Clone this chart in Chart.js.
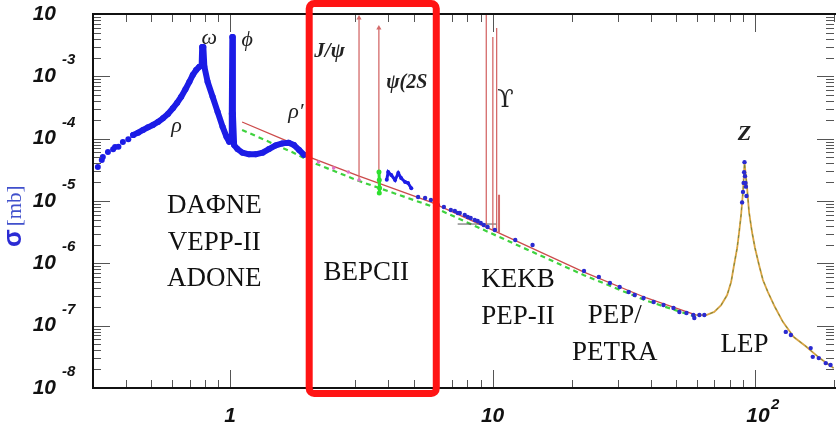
<!DOCTYPE html>
<html>
<head>
<meta charset="utf-8">
<script src="https://cdn.jsdelivr.net/npm/chart.js@4/dist/chart.umd.min.js"></script>
<style>
  html, body { margin: 0; padding: 0; background: #fff; }
  canvas { display: block; }
</style>
</head>
<body>
<canvas id="sigmaChart" width="838" height="429"></canvas>
<script>
// e+e- -> hadrons, E in GeV, sigma in mb
const sparseE = [0.313, 0.324, 0.327, 0.342, 0.358, 0.364, 0.375, 0.390, 0.409, 0.427];
const sparseSigma = [3.51e-5, 4.55e-5, 5.08e-5, 6.11e-5, 6.76e-5, 7.35e-5, 7.43e-5, 8.83e-5, 9.77e-5, 1.15e-4];

const bandE = [0.427, 0.446, 0.4655, 0.486, 0.5077, 0.5305, 0.5542, 0.5789, 0.6045, 0.6282, 0.6506, 0.6752,
  0.6993, 0.7199, 0.7414, 0.7631, 0.7785, 0.782, 0.790, 0.797, 0.820, 0.857, 0.895, 0.935, 0.968, 0.991,
  1.008, 1.014, 1.019, 1.024, 1.035, 1.066, 1.113, 1.18, 1.25, 1.33, 1.405, 1.49, 1.58, 1.67, 1.75, 1.83, 1.91];
const bandSigma = [1.15e-4, 1.25e-4, 1.38e-4, 1.52e-4, 1.66e-4, 1.85e-4, 2.12e-4, 2.49e-4, 3.07e-4, 3.78e-4,
  4.71e-4, 6.19e-4, 8.20e-4, 1.05e-3, 1.26e-3, 1.43e-3, 1.52e-3, 2.95e-3, 2.95e-3, 1.43e-3, 8.2e-4, 4.71e-4,
  2.71e-4, 1.56e-4, 1.07e-4, 8.9e-5, 1.0e-4, 2.5e-4, 4.27e-3, 2.5e-4, 7.9e-5, 6.8e-5, 5.96e-5, 5.6e-5,
  5.6e-5, 5.96e-5, 6.8e-5, 7.8e-5, 8.4e-5, 8.6e-5, 7.9e-5, 6.6e-5, 5.5e-5];

// continuum theory (red) and second prediction (green dashed)
const contE = [1.11, 1.72, 2.04, 3.10, 5.82, 10.4, 22.3, 38.6, 59.8];
const contSigma = [1.85e-4, 8.5e-5, 4.9e-5, 2.51e-5, 9.6e-6, 3.16e-6, 7.24e-7, 2.78e-7, 1.48e-7];
const greenE = [1.11, 1.72, 2.04, 3.10, 5.82, 10.4, 22.3, 38.6, 59.8];
const greenSigma = [1.38e-4, 6.11e-5, 4.23e-5, 2.09e-5, 8.3e-6, 2.75e-6, 6.46e-7, 2.51e-7, 1.38e-7];

// Z line shape
const zE = [59.8, 65.2, 69.9, 74.3, 78.3, 81.1, 83.2, 85.5, 87.0, 88.5, 90.1, 91.2, 93.3, 94.9, 97.4, 100,
  103.6, 107.2, 112.0, 119.1, 127.7, 140.5, 156.1, 176.3, 199.2];
const zSigma = [1.48e-7, 1.48e-7, 1.66e-7, 2.14e-7, 3.10e-7, 5.01e-7, 9.4e-7, 1.76e-6, 3.18e-6, 5.96e-6,
  1.50e-5, 4.06e-5, 1.61e-5, 6.65e-6, 3.18e-6, 1.76e-6, 9.4e-7, 5.40e-7, 3.46e-7, 1.99e-7, 1.15e-7,
  6.58e-8, 4.68e-8, 3.02e-8, 2.09e-8];

// narrow resonances: energy, base, top
const spikeE = [3.097, 3.686, 9.46, 10.02, 10.36, 10.58];
const spikeBase = [2.17e-5, 1.5e-5, 3.7e-6, 3.4e-6, 3.2e-6, 3.1e-6];
const spikeTop = [8.6e-3, 5.96e-3, 1.0e-2, 4.27e-3, 5.96e-3, 1.26e-5];
const spikeArrow = [true, true, false, false, false, false];

// charm threshold wiggle
const bumpE = [3.95, 4.0, 4.11, 4.25, 4.37, 4.48, 4.64, 4.76, 4.9];
const bumpSigma = [2.2e-5, 2.92e-5, 2.61e-5, 2.17e-5, 2.81e-5, 2.34e-5, 2.02e-5, 1.95e-5, 1.6e-5];

// measured points above 5 GeV
const dataE = [5.20, 5.53, 5.82, 6.19, 6.52, 6.93, 7.18, 7.37, 7.5, 7.83, 8.04, 8.25, 8.55, 8.77, 9.01, 9.25,
  9.57, 10.2, 12.2, 14.2, 22.3, 25.4, 28.0, 30.5, 33.0, 34.8, 37.6, 41.1, 44.8, 48.9, 51.5, 54.8, 58.2, 58.7,
  61.4, 64.1, 89.3, 90.0, 90.5, 90.9, 91.2, 91.6, 92.0, 92.3, 92.8, 131, 137, 163, 166, 175, 186, 194];
const dataSigma = [1.16e-5, 1.12e-5, 1.04e-5, 8.63e-6, 8.0e-6, 7.16e-6, 6.9e-6, 6.41e-6, 6.41e-6, 5.96e-6,
  5.53e-6, 5.33e-6, 4.95e-6, 4.78e-6, 4.43e-6, 4.12e-6, 3.83e-6, 3.43e-6, 2.37e-6, 1.97e-6, 7.53e-7, 6.03e-7,
  4.83e-7, 4.17e-7, 3.47e-7, 3.10e-7, 2.78e-7, 2.40e-7, 2.14e-7, 1.92e-7, 1.66e-7, 1.60e-7, 1.48e-7, 1.33e-7,
  1.48e-7, 1.48e-7, 9.5e-6, 1.4e-5, 1.95e-5, 2.9e-5, 4.2e-5, 2.5e-5, 1.95e-5, 1.7e-5, 1.2e-5, 7.94e-8,
  7.08e-8, 4.37e-8, 3.16e-8, 3.02e-8, 2.51e-8, 2.34e-8];
const pinkE = [2.17, 2.48, 2.82, 3.10];
const pinkSigma = [4.23e-5, 3.39e-5, 2.92e-5, 2.17e-5];
const psiGreenE = [3.69, 3.70, 3.71, 3.70];
const psiGreenSigma = [2.92e-5, 2.17e-5, 1.62e-5, 1.35e-5];

// short marker line near the Upsilon region
const markE = [7.36, 10.4];
const markSigma = [4.27e-6, 4.27e-6];

const xMajor = [1, 10, 100];
const yExponents = [-2, -3, -4, -5, -6, -7, -8];

const regionLabels = [
  { lines: ['DAΦNE', 'VEPP-II', 'ADONE'], x: 0.87, y: 6.4e-6 },
  { lines: ['BEPCII'], x: 3.30, y: 5.4e-7 },
  { lines: ['KEKB', 'PEP-II'], x: 12.5, y: 4.17e-7 },
  { lines: ['PEP/', 'PETRA'], x: 29.2, y: 1.1e-7 },
  { lines: ['LEP'], x: 91.2, y: 3.78e-8 }
];
const peakLabels = [
  { text: 'ω', x: 0.833, y: 4.12e-3, font: 'italic 22px "Liberation Serif"', align: 'center' },
  { text: 'ϕ', x: 1.16, y: 3.83e-3, font: 'italic 22px "Liberation Serif"', align: 'center' },
  { text: 'ρ', x: 0.624, y: 1.6e-4, font: 'italic 22px "Liberation Serif"', align: 'center' },
  { text: 'ρ′', x: 1.78, y: 2.68e-4, font: 'italic 22px "Liberation Serif"', align: 'center' },
  { text: 'J/ψ', x: 2.39, y: 2.45e-3, font: 'bold italic 21px "Liberation Serif"', align: 'center' },
  { text: 'ψ(2S', x: 3.93, y: 7.8e-4, font: 'bold italic 20px "Liberation Serif"', align: 'left' },
  { text: 'ϒ', x: 11.2, y: 4.0e-4, font: '24px "DejaVu Serif"', align: 'center' },
  { text: 'Z', x: 91.2, y: 1.19e-4, font: 'bold italic 22px "Liberation Serif"', align: 'center' }
];
const boxE = [2.0, 6.1];

const pts = (xs, ys) => xs.map((x, i) => ({ x: x, y: ys[i] }));

const datasets = [
  { data: pts(greenE, greenSigma), showLine: true, borderColor: '#3ed23e', borderWidth: 2.2,
    borderDash: [5, 4], pointRadius: 0, order: 9 },
  { data: pts(contE, contSigma), showLine: true, borderColor: '#cc4b4b', borderWidth: 1.3,
    pointRadius: 0, order: 8 },
  { data: pts(zE, zSigma), showLine: true, borderColor: '#d9a443', borderWidth: 1.8,
    pointRadius: 0, order: 7 },
  { data: pts(zE, zSigma), showLine: true, borderColor: '#5f7f3a', borderWidth: 0.8,
    borderDash: [3, 4], pointRadius: 0, order: 6 },
  { data: pts(markE, markSigma), showLine: true, borderColor: '#555', borderWidth: 1,
    pointRadius: 0, order: 6 }
];
spikeE.forEach((e, i) => {
  datasets.push({
    data: [{ x: e, y: spikeBase[i] }, { x: e, y: spikeTop[i] }],
    showLine: true, borderColor: '#d46a6a', borderWidth: i === 5 ? 2 : 1.3,
    pointStyle: 'triangle', pointRadius: spikeArrow[i] ? [0, 3] : 0,
    backgroundColor: '#d46a6a', pointBorderWidth: 0, order: 5
  });
});
datasets.push(
  { data: pts(pinkE, pinkSigma), pointRadius: 1.8, backgroundColor: '#e070c8', pointBorderWidth: 0, order: 4 },
  { data: pts(psiGreenE, psiGreenSigma), showLine: true, borderColor: '#2ee02e', borderWidth: 3,
    pointRadius: 2.5, backgroundColor: '#2ee02e', pointBorderWidth: 0, order: 3 },
  { data: pts(bumpE, bumpSigma), showLine: true, borderColor: '#1c1ce6', borderWidth: 3,
    pointRadius: 2, backgroundColor: '#1c1ce6', pointBorderWidth: 0, order: 2 },
  { data: pts(dataE, dataSigma), pointRadius: 2.2, backgroundColor: '#2a2ad0', pointBorderWidth: 0, order: 2 },
  { data: pts(sparseE, sparseSigma), pointRadius: 3, backgroundColor: '#1c1ce6', pointBorderWidth: 0, order: 1 },
  { data: pts(bandE, bandSigma), showLine: true, borderColor: '#1c1ce6', borderWidth: 6,
    borderJoinStyle: 'round', borderCapStyle: 'round', pointRadius: 3, backgroundColor: '#1c1ce6',
    pointBorderWidth: 0, order: 1 }
);

function minorTicks(lo, hi) {
  const out = [];
  for (let d = Math.floor(Math.log10(lo)); d <= Math.ceil(Math.log10(hi)); d++) {
    for (let k = 1; k <= 9; k++) {
      const v = k * Math.pow(10, d);
      if (v >= lo && v <= hi) out.push({ v: v, major: k === 1 });
    }
  }
  return out;
}

const framePlugin = {
  id: 'frame',
  afterDatasetsDraw(chart) {
    const { ctx, chartArea: a, scales: { x, y } } = chart;
    ctx.save();
    ctx.strokeStyle = '#555';
    ctx.lineWidth = 1;
    ctx.beginPath();
    minorTicks(x.min, x.max).forEach(t => {
      const px = Math.round(x.getPixelForValue(t.v)) + 0.5;
      const len = t.major ? 18 : 8;
      ctx.moveTo(px, a.bottom); ctx.lineTo(px, a.bottom - len);
      ctx.moveTo(px, a.top); ctx.lineTo(px, a.top + len);
    });
    minorTicks(y.min, y.max).forEach(t => {
      const py = Math.round(y.getPixelForValue(t.v)) + 0.5;
      const len = t.major ? 17 : 8;
      ctx.moveTo(a.left, py); ctx.lineTo(a.left + len, py);
      ctx.moveTo(a.right, py); ctx.lineTo(a.right - len, py);
    });
    ctx.stroke();

    ctx.strokeStyle = '#111';
    ctx.lineWidth = 2;
    ctx.beginPath();
    ctx.moveTo(a.right + 2, a.top);
    ctx.lineTo(a.left, a.top);
    ctx.lineTo(a.left, a.bottom);
    ctx.lineTo(a.right + 2, a.bottom);
    ctx.stroke();

    // tick labels
    ctx.fillStyle = '#111';
    ctx.textBaseline = 'middle';
    yExponents.forEach(n => {
      const py = y.getPixelForValue(Math.pow(10, n));
      ctx.font = 'bold italic 21px "Liberation Sans"';
      ctx.textAlign = 'right';
      ctx.fillText('10', 56, py);
      if (py - 16 > 8) {
        ctx.font = 'bold italic 15px "Liberation Sans"';
        ctx.textAlign = 'left';
        ctx.fillText(String(n), 62, py - 16);
      }
    });
    xMajor.forEach(v => {
      const px = x.getPixelForValue(v);
      const exp = Math.round(Math.log10(v));
      ctx.font = 'bold italic 21px "Liberation Sans"';
      ctx.textAlign = 'center';
      if (exp < 2) {
        ctx.fillText(String(v), px, a.bottom + 28);
      } else {
        ctx.fillText('10', px + 3, a.bottom + 28);
        ctx.font = 'bold italic 15px "Liberation Sans"';
        ctx.textAlign = 'left';
        ctx.fillText(String(exp), px + 16, a.bottom + 17);
      }
    });

    // y axis title
    ctx.save();
    ctx.translate(21, 247);
    ctx.rotate(-Math.PI / 2);
    ctx.textAlign = 'left';
    ctx.textBaseline = 'alphabetic';
    ctx.fillStyle = '#2b2bd4';
    ctx.font = 'bold 26px "Liberation Sans"';
    ctx.fillText('σ', 0, 0);
    const w = ctx.measureText('σ').width;
    ctx.fillStyle = '#4050cc';
    ctx.font = '21px "Liberation Serif"';
    ctx.fillText('[mb]', w + 3, 0);
    ctx.restore();

    // labels
    ctx.fillStyle = '#111';
    ctx.textBaseline = 'alphabetic';
    ctx.textAlign = 'center';
    ctx.font = '27px "Liberation Serif"';
    regionLabels.forEach(l => {
      const px = x.getPixelForValue(l.x);
      const py = y.getPixelForValue(l.y);
      l.lines.forEach((s, i) => ctx.fillText(s, px, py + i * 36.5));
    });
    ctx.textBaseline = 'middle';
    ctx.fillStyle = '#222';
    peakLabels.forEach(l => {
      ctx.font = l.font;
      ctx.textAlign = l.align;
      ctx.fillText(l.text, x.getPixelForValue(l.x), y.getPixelForValue(l.y));
    });

    // BEPCII highlight box
    const bx0 = x.getPixelForValue(boxE[0]);
    const bx1 = x.getPixelForValue(boxE[1]);
    ctx.strokeStyle = '#ff1414';
    ctx.lineWidth = 7;
    ctx.beginPath();
    ctx.roundRect(bx0, a.top - 10.5, bx1 - bx0, a.bottom - a.top + 16, 5);
    ctx.stroke();
    ctx.restore();
  }
};

new Chart(document.getElementById('sigmaChart'), {
  type: 'scatter',
  data: { datasets: datasets },
  options: {
    responsive: false,
    animation: false,
    events: [],
    layout: { padding: { left: 93, top: 14, right: 0, bottom: 41 } },
    scales: {
      x: { type: 'logarithmic', min: 0.3, max: 200, display: false },
      y: { type: 'logarithmic', min: 1e-8, max: 1e-2, display: false }
    },
    plugins: { legend: { display: false }, tooltip: { enabled: false } }
  },
  plugins: [framePlugin]
});
</script>
</body>
</html>
